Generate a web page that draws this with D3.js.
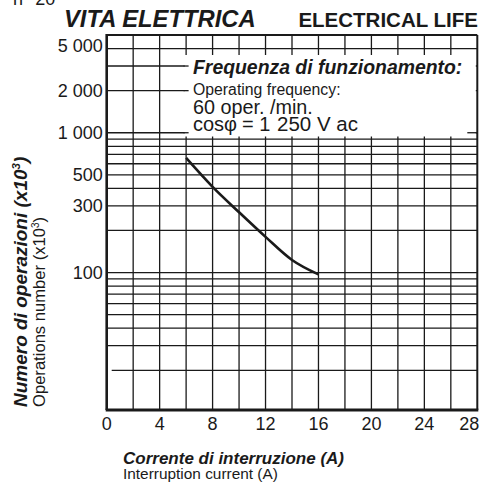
<!DOCTYPE html>
<html>
<head>
<meta charset="utf-8">
<style>
  body { margin: 0; background: #fff; }
  svg { display: block; font-family: "Liberation Sans", Arial, Helvetica, sans-serif; }
</style>
</head>
<body>
<svg width="484" height="488"></svg>
<script src="https://cdn.jsdelivr.net/npm/d3@7"></script>
<script>
    // curve
    const currents = [6, 8, 10, 12, 14, 16];
    const operations = [660, 410, 270, 180, 123, 97];

    const xTicks = [0, 4, 8, 12, 16, 20, 24, 28];
    const xGrid = [2, 4, 6, 8, 10, 12, 14, 16, 18, 20, 22, 24, 26];
    const yTicks = [100, 300, 500, 1000, 2000, 5000];
    const yTickLabels = ["100", "300", "500", "1 000", "2 000", "5 000"];
    const yGrid = [20, 30, 40, 50, 60, 70, 80, 90, 100, 200, 300, 400, 500, 600, 700, 800, 900, 1000, 2000, 3000, 4000];

    const svg = d3.select("svg");
    const pL = 106.7, pR = 477.3, pT = 35, pB = 410;
    const ink = "#1a1a1a";

    const x = d3.scaleLinear().domain([0, 28]).range([pL, pR]);
    const y = d3.scaleLog().domain([10.4, 5000]).range([pB, pT]);

    // grid
    const grid = svg.append("g").attr("stroke", ink).attr("stroke-width", 1.3);
    grid.selectAll("line.v").data(xGrid).join("line")
        .attr("class", "v")
        .attr("x1", d => x(d)).attr("x2", d => x(d))
        .attr("y1", pT).attr("y2", pB);
    grid.selectAll("line.h").data(yGrid).join("line")
        .attr("class", "h")
        .attr("x1", d => d === 20 ? pL + 5 : pL).attr("x2", pR)
        .attr("y1", d => y(d)).attr("y2", d => y(d));

    // annotation box punched out of the grid
    const boxL = x(6) - 1.5, boxR = pR - 1.5, boxT = 55, boxB = 136.5;
    svg.append("rect")
        .attr("x", boxL).attr("y", boxT)
        .attr("width", boxR - boxL).attr("height", boxB - boxT)
        .attr("fill", "#fff");
    // little stubs of the hidden lines at the box edge
    [3000, 2000, 1000].forEach(v => {
        svg.append("line").attr("stroke", ink).attr("stroke-width", 1.3)
            .attr("x1", boxL - 1).attr("x2", boxL + 4)
            .attr("y1", y(v)).attr("y2", y(v));
    });
    svg.append("line").attr("stroke", ink).attr("stroke-width", 1.3)
        .attr("x1", pR - 10).attr("x2", pR)
        .attr("y1", y(1000)).attr("y2", y(1000));

    // frame
    svg.append("line").attr("stroke", ink).attr("stroke-width", 2)
        .attr("x1", pL).attr("x2", pR).attr("y1", pT).attr("y2", pT);
    svg.append("line").attr("stroke", ink).attr("stroke-width", 2)
        .attr("x1", pR).attr("x2", pR).attr("y1", pT).attr("y2", pB);
    svg.append("line").attr("stroke", ink).attr("stroke-width", 2.6)
        .attr("x1", pL).attr("x2", pL).attr("y1", pT - 1).attr("y2", pB);
    svg.append("line").attr("stroke", ink).attr("stroke-width", 2.8)
        .attr("x1", pL - 1).attr("x2", pR + 1).attr("y1", pB).attr("y2", pB);

    // tick labels (last one pulled in so it stays on the page)
    svg.append("g").selectAll("text").data(xTicks).join("text")
        .attr("x", (d, i) => i === xTicks.length - 1 ? pR + 2 : x(d)).attr("y", pB + 20)
        .attr("text-anchor", (d, i) => i === xTicks.length - 1 ? "end" : "middle")
        .attr("font-size", 18).attr("fill", ink)
        .text(d => d);
    svg.append("g").selectAll("text").data(yTicks).join("text")
        .attr("x", pL - 4).attr("y", d => y(d))
        .attr("dy", (d, i) => i === yTicks.length - 1 ? "0.95em" : "0.36em")
        .attr("text-anchor", "end")
        .attr("font-size", 18).attr("fill", ink)
        .text((d, i) => yTickLabels[i]);

    // curve
    const pts = currents.map((c, i) => [c, operations[i]]);
    svg.append("path")
        .datum(pts)
        .attr("fill", "none").attr("stroke", ink).attr("stroke-width", 2.6)
        .attr("d", d3.line().x(d => x(d[0])).y(d => y(d[1])).curve(d3.curveMonotoneX));

    // box text
    const note = svg.append("g").attr("fill", ink);
    note.append("text").attr("x", 193).attr("y", 73.5)
        .attr("font-size", 19.4).attr("font-weight", "bold").attr("font-style", "italic")
        .text("Frequenza di funzionamento:");
    note.append("text").attr("x", 193).attr("y", 95)
        .attr("font-size", 15.8).text("Operating frequency:");
    note.append("text").attr("x", 193).attr("y", 113.5)
        .attr("font-size", 19.8).text("60 oper. /min.");
    note.append("text").attr("x", 193).attr("y", 131)
        .attr("font-size", 20).text("cosφ");
    note.append("text").attr("x", 242).attr("y", 131)
        .attr("font-size", 20).text("= 1");
    note.append("text").attr("x", 277).attr("y", 131)
        .attr("font-size", 20.5).text("250 V ac");

    // titles
    svg.append("text").attr("x", 13).attr("y", 5)
        .attr("font-size", 18).attr("fill", ink).text("n° 20");
    svg.append("text").attr("x", 64).attr("y", 27)
        .attr("font-size", 23.8).attr("font-weight", "bold").attr("font-style", "italic")
        .attr("fill", ink).text("VITA ELETTRICA");
    svg.append("text").attr("x", 478).attr("y", 27)
        .attr("text-anchor", "end")
        .attr("font-size", 20.5).attr("font-weight", "bold")
        .attr("fill", ink).text("ELECTRICAL LIFE");

    svg.append("text").attr("x", 123).attr("y", 463.5)
        .attr("font-size", 17).attr("font-weight", "bold").attr("font-style", "italic")
        .attr("fill", ink).text("Corrente di interruzione (A)");
    svg.append("text").attr("x", 123).attr("y", 478.5)
        .attr("font-size", 15.4).attr("fill", ink).text("Interruption current (A)");

    const yt1 = svg.append("text")
        .attr("transform", "translate(27,407) rotate(-90)")
        .attr("font-size", 19).attr("font-weight", "bold").attr("font-style", "italic")
        .attr("fill", ink);
    yt1.append("tspan").text("Numero di operazioni (x10");
    yt1.append("tspan").attr("font-size", 11.5).attr("dy", -7.5).text("3");
    yt1.append("tspan").attr("dy", 7.5).text(")");

    const yt2 = svg.append("text")
        .attr("transform", "translate(45,407) rotate(-90)")
        .attr("font-size", 16.6).attr("fill", ink);
    yt2.append("tspan").text("Operations number (x10");
    yt2.append("tspan").attr("font-size", 10).attr("dy", -6.5).text("3");
    yt2.append("tspan").attr("dy", 6.5).text(")");
</script>
</body>
</html>
